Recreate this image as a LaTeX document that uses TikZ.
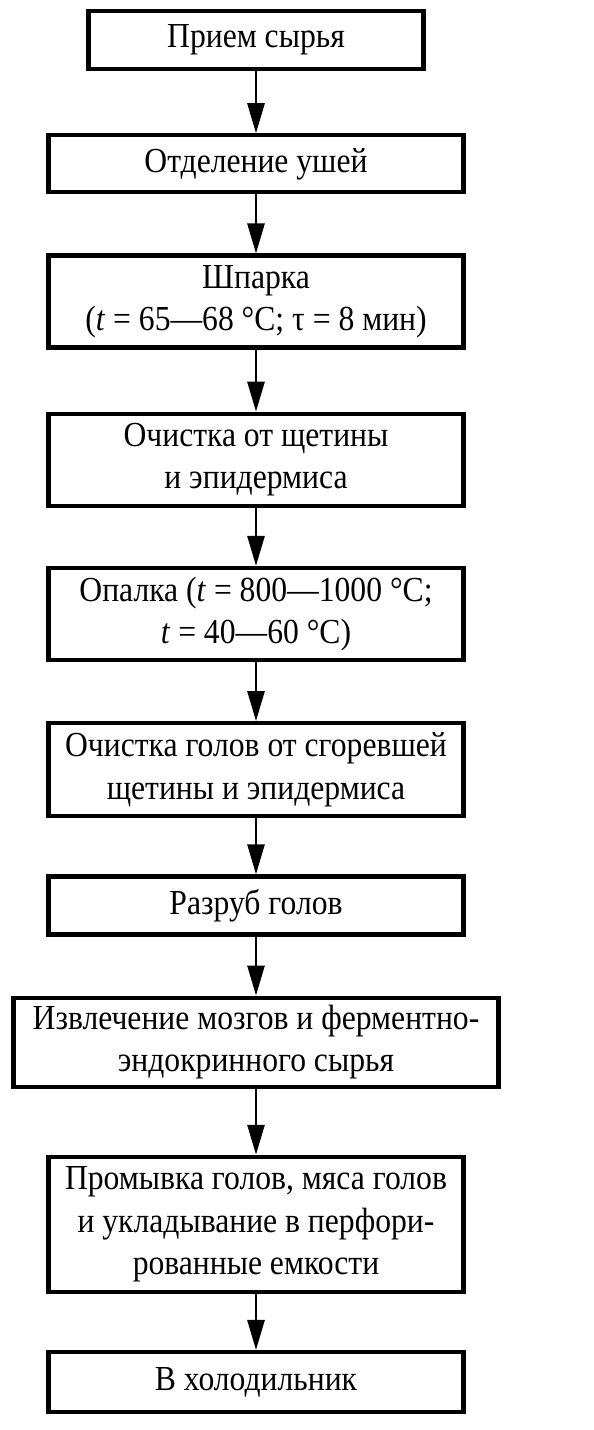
\documentclass[tikz,border=0pt]{standalone}
\usepackage{fontspec}
\setmainfont[FakeStretch=0.9]{Liberation Serif}
\usetikzlibrary{positioning,arrows.meta}

\begin{document}
\begin{tikzpicture}[
    stage/.style={draw, line width=2.4pt, align=center, inner sep=2pt,
      minimum width=8.3cm, font=\fontsize{20}{24}\selectfont},
    flow/.style={-{Triangle[length=0.6cm,width=0.34cm]}, line width=1.6pt}]
  \useasboundingbox (0,0) rectangle (11.86,-28.6);
  \node[stage, minimum width=6.7cm, minimum height=1.16cm, anchor=north] (priem) at (5.12,-0.18) {Прием сырья};
  \node[stage, minimum height=1.14cm, below=1.24cm of priem] (ushi) {Отделение ушей};
  \node[stage, minimum height=1.84cm, below=1.18cm of ushi] (shparka) {Шпарка\\(\textit{t} = 65—68 °C; τ = 8 мин)};
  \node[stage, minimum height=1.84cm, below=1.24cm of shparka] (ochistka) {Очистка от щетины\\и эпидермиса};
  \node[stage, minimum height=1.84cm, below=1.16cm of ochistka] (opalka) {Опалка (\textit{t} = 800—1000 °C;\\\textit{t} = 40—60 °C)};
  \node[stage, minimum height=1.86cm, below=1.18cm of opalka] (golovy) {Очистка голов от сгоревшей\\щетины и эпидермиса};
  \node[stage, minimum height=1.16cm, below=1.12cm of golovy] (razrub) {Разруб голов};
  \node[stage, minimum width=9.7cm, minimum height=1.78cm, below=1.18cm of razrub] (mozgi) {Извлечение мозгов и ферментно-\\эндокринного сырья};
  \node[stage, minimum height=2.7cm, below=1.32cm of mozgi] (promyvka) {Промывка голов, мяса голов\\и укладывание в перфори-\\рованные емкости};
  \node[stage, minimum height=1.2cm, below=1.12cm of promyvka] (holod) {В холодильник};
  \foreach \a/\b in {priem/ushi, ushi/shparka, shparka/ochistka, ochistka/opalka,
      opalka/golovy, golovy/razrub, razrub/mozgi, mozgi/promyvka, promyvka/holod}
    \draw[flow] (\a) -- (\b);
\end{tikzpicture}
\end{document}
